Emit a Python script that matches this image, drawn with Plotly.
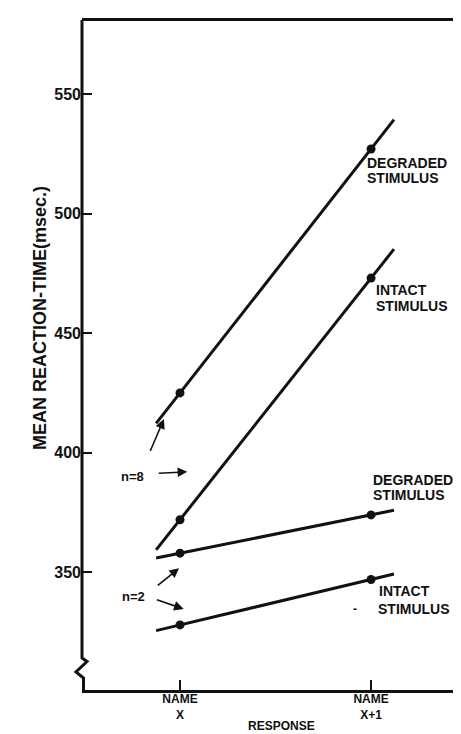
import plotly.graph_objects as go

# ---------------- data ----------------
responses = ["NAME<br>X", "NAME<br>X+1"]
resp_pos = [0, 1]
series_names = ["Degraded, n=8", "Intact, n=8", "Degraded, n=2", "Intact, n=2"]
deg8 = [425, 527]
int8 = [372, 473]
deg2 = [358, 374]
int2 = [328, 347]
y_ticks = [350, 400, 450, 500, 550]

# ---------------- layout geometry ----------------
W_FIG, H_FIG = 461, 734
M_L, M_R, M_T, M_B = 74, 3, 13, 52
PW = W_FIG - M_L - M_R
PH = H_FIG - M_T - M_B
X_RANGE = [-0.513, 1.497]
Y_RANGE = [300.8, 580.5]

def pxx(px):
    return (px - M_L) / PW

def pxy(py):
    return (H_FIG - M_B - py) / PH

FONT = "Liberation Sans, Arial, sans-serif"
BLACK = "#111111"
BOTTOM = H_FIG - M_B

fig = go.Figure()

EXT_LO, EXT_HI = 0.125, 0.12
for vals in [deg8, int8, deg2, int2]:
    slope = (vals[1] - vals[0]) / (resp_pos[1] - resp_pos[0])
    xs = [resp_pos[0] - EXT_LO, resp_pos[1] + EXT_HI]
    ys = [vals[0] - slope * EXT_LO, vals[1] + slope * EXT_HI]
    fig.add_trace(go.Scatter(x=xs, y=ys, mode="lines",
                             line=dict(color=BLACK, width=3),
                             hoverinfo="skip", showlegend=False))
for name, vals in zip(series_names, [deg8, int8, deg2, int2]):
    fig.add_trace(go.Scatter(x=resp_pos, y=vals, mode="markers", name=name,
                             marker=dict(color=BLACK, size=9),
                             showlegend=False))

ann = []
lab_font = dict(family=FONT, size=14, color=BLACK, weight="bold")

def two_line(x, y1, y2, t1, t2, x2=None):
    ann.append(dict(x=x, y=y1, xref="x", yref="y", text=t1, showarrow=False,
                    xanchor="left", yanchor="middle", font=lab_font))
    ann.append(dict(x=x if x2 is None else x2, y=y2, xref="x", yref="y", text=t2,
                    showarrow=False, xanchor="left", yanchor="middle", font=lab_font))

two_line(0.969, 521.1, 514.9, "DEGRADED", "STIMULUS")
two_line(1.016, 468.2, 461.5, "INTACT", "STIMULUS")
two_line(0.998, 388.8, 382.2, "DEGRADED", "STIMULUS")
two_line(1.033, 342.1, 334.6, "INTACT", "STIMULUS", x2=1.028)
ann.append(dict(x=0.915, y=334.5, xref="x", yref="y", text="-", showarrow=False,
                font=dict(family=FONT, size=12, color=BLACK, weight="bold")))

# n labels
for txt, x, y in [("n=8", -0.251, 390.2), ("n=2", -0.246, 340.0)]:
    ann.append(dict(x=x, y=y, xref="x", yref="y", text=txt, showarrow=False,
                    xanchor="center", yanchor="middle",
                    font=dict(family=FONT, size=13, color=BLACK, weight="bold")))

# arrows (tail -> head)
arrows = [((-0.119, 391.4), (0.038, 392.0)),
          ((-0.159, 400.1), (-0.084, 414.1)),
          ((-0.124, 344.0), (-0.005, 351.7)),
          ((-0.129, 338.7), (0.019, 334.7))]
for (tx, ty), (hx, hy) in arrows:
    ann.append(dict(x=hx, y=hy, ax=tx, ay=ty, xref="x", yref="y", axref="x", ayref="y",
                    text="", showarrow=True, arrowhead=2, arrowsize=1.2,
                    arrowwidth=1.6, arrowcolor=BLACK))

# axis titles
ann.append(dict(x=pxx(273), y=pxy(718), xref="paper", yref="paper", text="RESPONSE",
                showarrow=False, xanchor="center", yanchor="middle",
                font=dict(family=FONT, size=12, color=BLACK, weight="bold")))
ann.append(dict(x=pxx(32), y=pxy(310), xref="paper", yref="paper",
                text="MEAN REACTION-TIME(msec.)", textangle=-90,
                showarrow=False, xanchor="center", yanchor="middle",
                font=dict(family=FONT, size=18, color=BLACK, weight="bold")))

# frame verticals with axis breaks
left_pts = [(74, 12), (74, BOTTOM - 32), (79, BOTTOM - 28.5), (68, BOTTOM - 18),
            (75.5, BOTTOM - 12), (75.5, BOTTOM + 1)]
right_pts = [(458, 12), (458, BOTTOM - 29), (452.5, BOTTOM - 18),
             (458.5, BOTTOM - 8), (458.5, BOTTOM + 1)]
shapes = []
for pts in [left_pts, right_pts]:
    path = "M " + " L ".join(f"{pxx(a):.5f},{pxy(b):.5f}" for a, b in pts)
    shapes.append(dict(type="path", path=path, xref="paper", yref="paper",
                       line=dict(color=BLACK, width=3), layer="above"))

fig.update_layout(
    width=W_FIG, height=H_FIG,
    margin=dict(l=M_L, r=M_R, t=M_T, b=M_B),
    paper_bgcolor="white", plot_bgcolor="white",
    showlegend=False,
    annotations=ann, shapes=shapes,
    xaxis=dict(range=X_RANGE, tickvals=resp_pos, ticktext=responses,
               ticks="inside", ticklen=10, tickwidth=2, tickcolor=BLACK,
               showline=True, linewidth=3, linecolor=BLACK, mirror=True,
               showgrid=False, zeroline=False, ticklabelstandoff=-4,
               tickfont=dict(family=FONT, size=12, color=BLACK, weight="bold")),
    yaxis=dict(range=Y_RANGE, tickvals=y_ticks,
               ticks="inside", ticklen=10, tickwidth=2, tickcolor=BLACK,
               showline=False, mirror="ticks",
               showgrid=False, zeroline=False,
               tickfont=dict(family=FONT, size=16, color=BLACK, weight="bold")),
)

fig.write_html("out.html")
